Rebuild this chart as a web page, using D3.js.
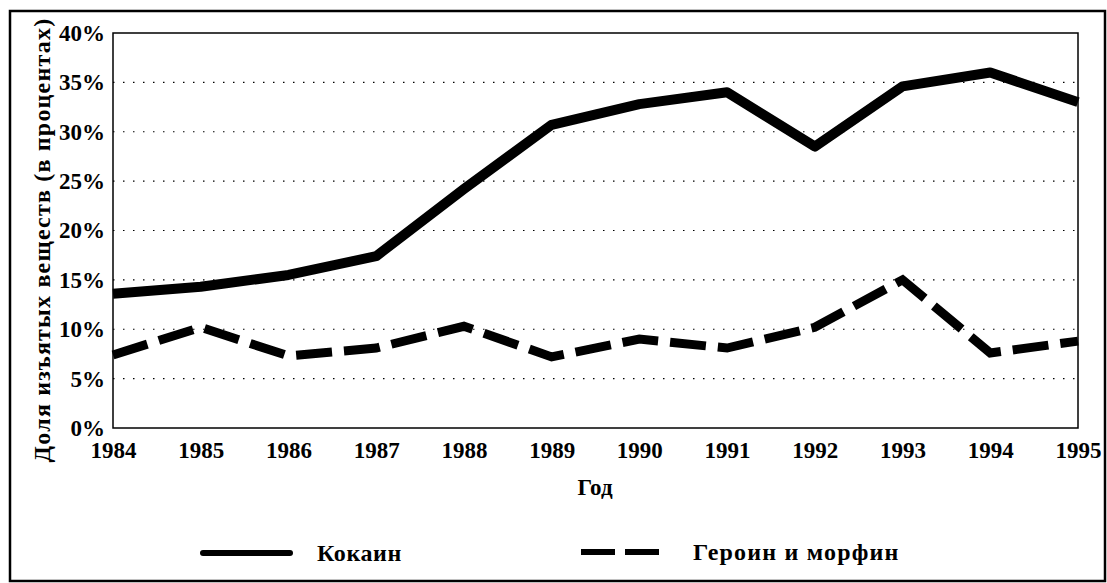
<!DOCTYPE html>
<html>
<head>
<meta charset="utf-8">
<title>Доля изъятых веществ</title>
<script src="https://cdn.jsdelivr.net/npm/d3@7"></script>
<style>
  body { margin: 0; background: #fff; }
  svg text { font-family: "Liberation Serif", "DejaVu Serif", serif; font-weight: bold; fill: #000; }
</style>
</head>
<body>
<svg id="chart" width="1107" height="583"></svg>
<script>
// data
var years = [1984, 1985, 1986, 1987, 1988, 1989, 1990, 1991, 1992, 1993, 1994, 1995];
var cocaine = [13.6, 14.3, 15.5, 17.4, 24.2, 30.7, 32.8, 34.0, 28.5, 34.6, 36.0, 33.0];
var heroin = [7.4, 10.2, 7.3, 8.1, 10.3, 7.2, 9.0, 8.1, 10.2, 15.0, 7.6, 8.8];
var yTicks = [0, 5, 10, 15, 20, 25, 30, 35, 40];
var seriesNames = ["Кокаин", "Героин и морфин"];

var svg = d3.select("#chart");
var m = { left: 113, right: 1078, top: 33, bottom: 428 };

// outer frame
svg.append("rect")
  .attr("x", 10).attr("y", 11).attr("width", 1095).attr("height", 570)
  .attr("fill", "none").attr("stroke", "#000").attr("stroke-width", 2.5);

var x = d3.scaleLinear().domain([1984, 1995]).range([m.left, m.right]);
var y = d3.scaleLinear().domain([0, 40]).range([m.bottom, m.top]);

// dotted grid
svg.append("g")
  .selectAll("line")
  .data(yTicks.filter(function(d) { return d > 0 && d < 40; }))
  .enter().append("line")
  .attr("x1", m.left).attr("x2", m.right)
  .attr("y1", function(d) { return y(d); }).attr("y2", function(d) { return y(d); })
  .attr("stroke", "#000").attr("stroke-width", 1.2)
  .attr("stroke-dasharray", "1.5,8.5");

// plot box
svg.append("rect")
  .attr("x", m.left).attr("y", m.top).attr("width", m.right - m.left).attr("height", m.bottom - m.top)
  .attr("fill", "none").attr("stroke", "#000").attr("stroke-width", 1.5);

// y axis labels
var yAxis = d3.axisLeft(y).tickValues(yTicks).tickSize(0).tickPadding(8)
  .tickFormat(function(d) { return d + "%"; });
svg.append("g").attr("transform", "translate(" + m.left + ",0)").call(yAxis)
  .call(function(g) { g.select(".domain").remove(); })
  .selectAll("text")
  .style("font-size", "23px").attr("dy", "0.32em");

// x axis labels
var xAxis = d3.axisBottom(x).tickValues(years).tickSize(0).tickPadding(14)
  .tickFormat(d3.format("d"));
svg.append("g").attr("transform", "translate(0," + m.bottom + ")").call(xAxis)
  .call(function(g) { g.select(".domain").remove(); })
  .selectAll("text")
  .style("font-size", "23px");

// drop the axis-group default font so the css serif applies
svg.selectAll("g").attr("font-family", null).attr("font-size", null);

// axis titles
svg.append("text")
  .attr("x", 595).attr("y", 495)
  .attr("text-anchor", "middle").style("font-size", "23px")
  .text("Год");

svg.append("text")
  .attr("transform", "translate(50,240) rotate(-90)")
  .attr("text-anchor", "middle").style("font-size", "24px")
  .style("letter-spacing", "1.2px")
  .text("Доля изъятых веществ (в процентах)");

// lines
var line = d3.line()
  .x(function(d, i) { return x(years[i]); })
  .y(function(d) { return y(d); });

svg.append("path")
  .datum(cocaine)
  .attr("d", line)
  .attr("fill", "none").attr("stroke", "#000").attr("stroke-width", 10)
  .attr("stroke-linejoin", "round");

svg.append("path")
  .datum(heroin)
  .attr("d", line)
  .attr("fill", "none").attr("stroke", "#000").attr("stroke-width", 9)
  .attr("stroke-dasharray", "36,12");

// legend
var legend = svg.append("g");
legend.append("line")
  .attr("x1", 203).attr("x2", 290).attr("y1", 553).attr("y2", 553)
  .attr("stroke", "#000").attr("stroke-width", 6).attr("stroke-linecap", "round");
legend.append("text")
  .attr("x", 317).attr("y", 561).style("font-size", "24px")
  .style("letter-spacing", "0.6px")
  .text(seriesNames[0]);

legend.append("line")
  .attr("x1", 581).attr("x2", 660).attr("y1", 552).attr("y2", 552)
  .attr("stroke", "#000").attr("stroke-width", 6)
  .attr("stroke-dasharray", "34,10");
legend.append("text")
  .attr("x", 693).attr("y", 560).style("font-size", "24px")
  .style("letter-spacing", "1.2px")
  .text(seriesNames[1]);
</script>
</body>
</html>
